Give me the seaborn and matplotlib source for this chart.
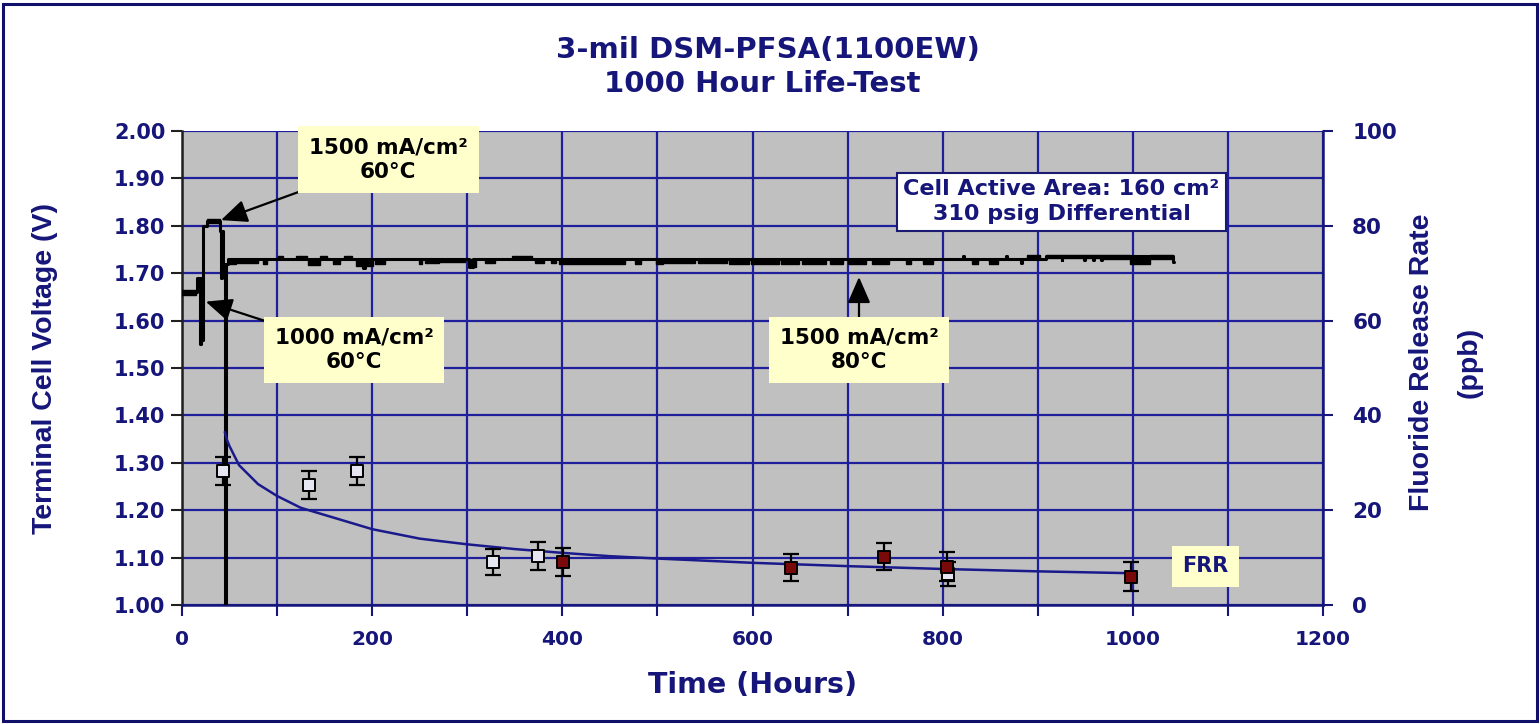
import matplotlib
matplotlib.use("Agg")
import matplotlib.pyplot as plt
import seaborn as sns
from matplotlib.patches import Rectangle
from matplotlib.ticker import MultipleLocator, FormatStrFormatter

# ---------------- data ----------------
# terminal cell voltage, step series (hour where a level starts, level in V)
volt_hours = [0, 16, 19, 20, 21, 22, 26, 40, 41, 42, 43, 45, 46, 48,
              190, 192, 302, 306, 821, 822, 867, 868, 882, 883,
              909, 925, 926, 949, 950, 958, 959, 967, 968, 1042, 1043]
volt_values = [1.66, 1.69, 1.55, 1.69, 1.56, 1.80, 1.81, 1.79, 1.69, 1.79, 1.72, 1.00, 1.72, 1.73,
               1.71, 1.73, 1.713, 1.73, 1.737, 1.73, 1.737, 1.73, 1.722, 1.73,
               1.737, 1.727, 1.737, 1.727, 1.737, 1.727, 1.737, 1.727, 1.737, 1.724, 1.724]

# noisy stretches of the voltage trace (start h, end h, min V, max V)
noise_start = [0, 26, 48, 57, 85, 101, 120, 133, 145, 159, 170, 183, 203, 249, 256, 270,
               302, 319, 347, 371, 388, 397, 476, 499, 506, 543, 575, 598, 630, 652, 681,
               700, 726, 761, 779, 831, 849, 889, 909, 965, 997, 1018]
noise_end = [15, 40, 57, 80, 89, 106, 131, 145, 152, 166, 179, 201, 213, 252, 270, 298,
             309, 329, 368, 381, 393, 466, 483, 506, 540, 573, 596, 628, 649, 677, 695,
             719, 744, 767, 790, 837, 858, 902, 965, 997, 1018, 1042]
noise_low = [1.655, 1.805, 1.72, 1.722, 1.72, 1.73, 1.73, 1.718, 1.73, 1.72, 1.73, 1.715, 1.72, 1.72, 1.722, 1.724,
             1.713, 1.722, 1.73, 1.722, 1.722, 1.72, 1.72, 1.72, 1.722, 1.722, 1.72, 1.72, 1.72, 1.72, 1.72,
             1.72, 1.72, 1.72, 1.72, 1.72, 1.72, 1.73, 1.733, 1.731, 1.72, 1.731]
noise_high = [1.665, 1.815, 1.73, 1.73, 1.73, 1.737, 1.737, 1.73, 1.737, 1.73, 1.737, 1.73, 1.73, 1.73, 1.73, 1.73,
              1.73, 1.73, 1.737, 1.73, 1.73, 1.73, 1.73, 1.73, 1.73, 1.73, 1.73, 1.73, 1.73, 1.73, 1.73,
              1.73, 1.73, 1.73, 1.73, 1.73, 1.73, 1.738, 1.739, 1.739, 1.735, 1.739]

# fluoride release rate trend line (ppb)
trend_hours = [45, 47, 50, 55, 60, 70, 80, 100, 125, 150, 200, 250, 300, 350, 400,
               450, 500, 600, 700, 800, 900, 1000]
trend_ppb = [36.5, 35.0, 33.5, 31.5, 29.5, 27.5, 25.5, 23.0, 20.5, 19.0, 16.0, 14.0, 12.8, 11.8, 11.0,
             10.3, 9.8, 8.9, 8.2, 7.6, 7.1, 6.7]

# measured FRR points (ppb) with error bars
open_hours = [43, 134, 184, 327, 374, 806]
open_ppb = [28.3, 25.3, 28.3, 9.1, 10.3, 6.5]
open_err = [3.0, 3.0, 3.0, 2.8, 3.0, 2.5]
filled_hours = [401, 640, 738, 805, 998]
filled_ppb = [9.1, 7.9, 10.2, 8.1, 6.0]
filled_err = [3.0, 2.9, 2.8, 3.0, 3.1]

title_lines = ["3-mil DSM-PFSA(1100EW)", "1000 Hour Life-Test"]
x_ticks = [0, 200, 400, 600, 800, 1000, 1200]
y_left_ticks = [1.00, 1.10, 1.20, 1.30, 1.40, 1.50, 1.60, 1.70, 1.80, 1.90, 2.00]
y_right_ticks = [0, 20, 40, 60, 80, 100]

# ---------------- style ----------------
sns.set_theme(style="ticks")
plt.rcParams['font.family'] = ['DejaVu Sans']
NAVY = "#16167a"
GRID = "#1f1f9c"
BOXY = "#ffffcc"

fig = plt.figure(figsize=(15.4, 7.24), dpi=100)
fig.patch.set_facecolor("white")
fig.patches.append(Rectangle((0.002, 0.004), 0.996, 0.99, transform=fig.transFigure,
                             fill=False, ec="#10106a", lw=2.2, zorder=0))

ax = fig.add_axes([182 / 1540, 1 - 605 / 724, (1323 - 182) / 1540, (605 - 131) / 724])
ax.set_facecolor("#c0c0c0")
ax.set_xlim(0, 1200)
ax.set_ylim(1.0, 2.0)
ax.xaxis.set_major_locator(MultipleLocator(200))
ax.xaxis.set_minor_locator(MultipleLocator(100))
ax.yaxis.set_major_locator(MultipleLocator(0.1))
ax.yaxis.set_major_formatter(FormatStrFormatter("%.2f"))
ax.grid(True, which="both", color=GRID, lw=1.6, zorder=0)
ax.set_axisbelow(True)

# voltage noise bands
ax.bar(noise_start, [h - l for h, l in zip(noise_high, noise_low)], bottom=noise_low,
       width=[e - s for e, s in zip(noise_end, noise_start)], align="edge",
       color="black", edgecolor="black", linewidth=1.0, zorder=3)
# voltage trace
sns.lineplot(x=volt_hours, y=volt_values, ax=ax, drawstyle="steps-post", estimator=None,
             sort=False, color="black", lw=2.2, zorder=4)

ax.spines["top"].set_visible(False)
ax.spines["left"].set_color("#202020")
ax.spines["bottom"].set_color(NAVY)
ax.spines["right"].set_visible(False)
for sp in ["left", "bottom"]:
    ax.spines[sp].set_linewidth(1.8)

ax.tick_params(axis="y", which="major", direction="out", length=8, width=1.5, color="#202020",
               labelsize=15, labelcolor=NAVY, pad=4)
ax.tick_params(axis="x", which="both", direction="out", length=8, width=1.5, color=NAVY,
               labelsize=14.5, labelcolor=NAVY, pad=10)
ax.set_xticks(x_ticks)
ax.set_yticks(y_left_ticks)
ax.set_xticklabels([str(t) for t in x_ticks], fontweight="bold")
ax.set_yticklabels([f"{t:.2f}" for t in y_left_ticks], fontweight="bold")

ax.set_xlabel("Time (Hours)", fontsize=20.5, fontweight="bold", color=NAVY, labelpad=16)
ax.set_ylabel("")

# right axis: FRR
ax2 = ax.twinx()
ax2.set_ylim(0, 100)
ax2.set_yticks(y_right_ticks)
ax2.set_yticklabels([str(t) for t in y_right_ticks], fontweight="bold")
ax2.tick_params(axis="y", direction="out", length=7, width=1.5, color=NAVY,
                labelsize=15.5, labelcolor=NAVY, pad=14)
ax2.grid(False)
for sp in ["top", "left", "bottom"]:
    ax2.spines[sp].set_visible(False)
ax2.spines["right"].set_color(NAVY)
ax2.spines["right"].set_linewidth(1.8)

sns.lineplot(x=trend_hours, y=trend_ppb, ax=ax2, estimator=None, sort=False,
             color="#1a1a8c", lw=1.8, zorder=3)
ax2.errorbar(open_hours, open_ppb, yerr=open_err, fmt="none", ecolor="black",
             elinewidth=1.6, capsize=6, capthick=1.6, zorder=4)
ax2.errorbar(filled_hours, filled_ppb, yerr=filled_err, fmt="none", ecolor="black",
             elinewidth=1.6, capsize=6, capthick=1.6, zorder=4)
sns.scatterplot(x=open_hours, y=open_ppb, ax=ax2, marker="s", s=80, color="#e6e6f2",
                edgecolor="black", linewidth=1.4, zorder=5)
sns.scatterplot(x=filled_hours, y=filled_ppb, ax=ax2, marker="s", s=80, color="#7a0a0a",
                edgecolor="black", linewidth=1.4, zorder=6)

# ---------------- annotations ----------------
arrow = dict(arrowstyle="-|>,head_length=0.8,head_width=0.35", color="black", lw=1.6,
             mutation_scale=20, shrinkA=0, shrinkB=0)
box_kw = dict(boxstyle="square,pad=0.5", fc=BOXY, ec="none")
ax.annotate("1500 mA/cm²\n60°C", xy=(41, 1.812), xytext=(217, 1.94), ha="center", va="center",
            fontsize=15.5, fontweight="bold", color="black", linespacing=1.3,
            bbox=box_kw, arrowprops=arrow, zorder=7)
ax.annotate("1000 mA/cm²\n60°C", xy=(25, 1.64), xytext=(181, 1.538), ha="center", va="center",
            fontsize=15.5, fontweight="bold", color="black", linespacing=1.3,
            bbox=box_kw, arrowprops=arrow, zorder=7)
ax.annotate("1500 mA/cm²\n80°C", xy=(712, 1.692), xytext=(712, 1.538), ha="center", va="center",
            fontsize=15.5, fontweight="bold", color="black", linespacing=1.3,
            bbox=box_kw, arrowprops=arrow, zorder=7)
ax.text(925, 1.851, "Cell Active Area: 160 cm²\n310 psig Differential", ha="center", va="center",
        fontsize=16, fontweight="bold", color=NAVY, linespacing=1.3,
        bbox=dict(boxstyle="square,pad=0.3", fc="white", ec="#1a1a70", lw=1.5), zorder=7)
ax2.text(1076, 8.2, "FRR", ha="center", va="center", fontsize=15, fontweight="bold", color=NAVY,
         bbox=dict(boxstyle="square,pad=0.5", fc=BOXY, ec="none"), zorder=7)

# ---------------- titles / axis labels ----------------
fig.text(768 / 1540, 1 - 50 / 724, title_lines[0], ha="center", va="center", fontsize=21,
         fontweight="bold", color=NAVY)
fig.text(762 / 1540, 1 - 84 / 724, title_lines[1], ha="center", va="center", fontsize=21,
         fontweight="bold", color=NAVY)
fig.text(45 / 1540, 1 - 368 / 724, "Terminal Cell Voltage (V)", rotation=90, ha="center", va="center",
         fontsize=20.5, fontweight="bold", color=NAVY, family=["Liberation Sans"])
fig.text(1422 / 1540, 1 - 362 / 724, "Fluoride Release Rate", rotation=90, ha="center", va="center",
         fontsize=20.5, fontweight="bold", color=NAVY, family=["Liberation Sans"])
fig.text(1470 / 1540, 1 - 362 / 724, "(ppb)", rotation=90, ha="center", va="center",
         fontsize=20.5, fontweight="bold", color=NAVY, family=["Liberation Sans"])

fig.savefig("out.png", dpi=100)
